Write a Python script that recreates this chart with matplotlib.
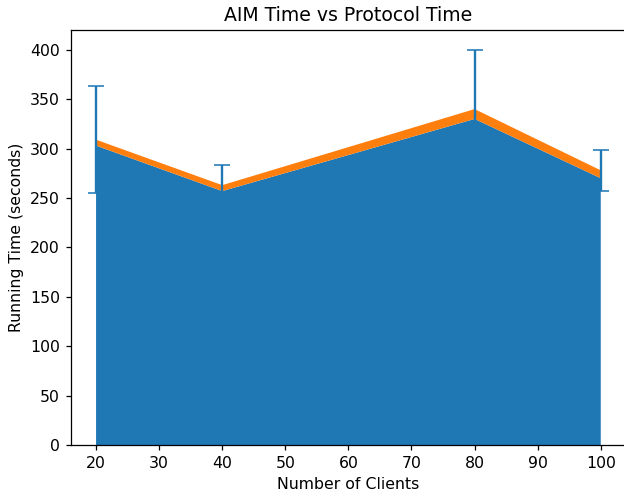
import numpy as np
import matplotlib
matplotlib.use("Agg")
import matplotlib.pyplot as plt

# ── Data ──
clients = [20, 40, 80, 100]
aim_time = [303, 257, 330, 270]
protocol_time = [6, 6, 10, 8]
time_std = [54, 20, 60, 21]

DPI = 113
fig = plt.figure(figsize=(624 / DPI, 498 / DPI), dpi=DPI)
ax = fig.add_axes([0.1135, 0.1064, 0.8897, 0.8333])

ax.stackplot(clients, aim_time, protocol_time, colors=["C0", "C1"])
total = np.array(aim_time) + np.array(protocol_time)
ax.errorbar(clients, total, yerr=time_std, fmt="none", ecolor="C0", capsize=5)

ax.set_title("AIM Time vs Protocol Time")
ax.set_xlabel("Number of Clients")
ax.set_ylabel("Running Time (seconds)")
ax.set_xticks(np.arange(20, 101, 10))
ax.set_xlim(16, 104)
ax.set_ylim(0, 420)

fig.savefig("out.png", dpi=DPI)
